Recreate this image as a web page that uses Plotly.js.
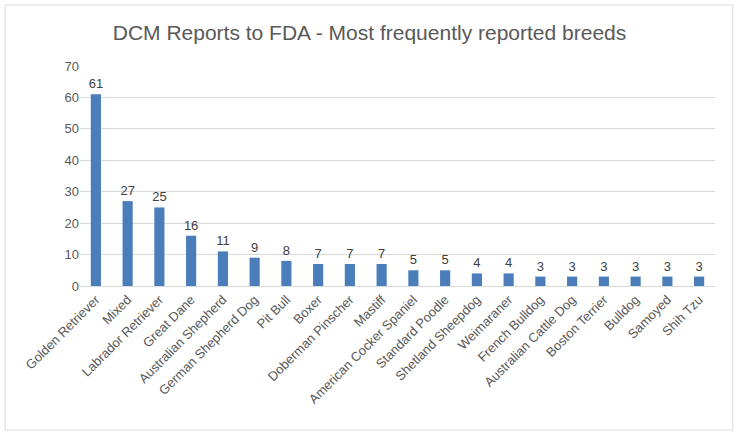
<!DOCTYPE html>
<html>
<head>
<meta charset="utf-8">
<script src="https://cdn.plot.ly/plotly-3.0.1.min.js"></script>
<style>
  body { margin: 0; background: #fff; }
  #chart { width: 739px; height: 434px; }
</style>
</head>
<body>
<div id="chart"></div>
<script>
var breeds = ["Golden Retriever", "Mixed", "Labrador Retriever", "Great Dane", "Australian Shepherd",
    "German Shepherd Dog", "Pit Bull", "Boxer", "Doberman Pinscher", "Mastiff",
    "American Cocker Spaniel", "Standard Poodle", "Shetland Sheepdog", "Weimaraner", "French Bulldog",
    "Australian Cattle Dog", "Boston Terrier", "Bulldog", "Samoyed", "Shih Tzu"]
var reports = [61, 27, 25, 16, 11, 9, 8, 7, 7, 7, 5, 5, 4, 4, 3, 3, 3, 3, 3, 3]
var yTicks = [0, 10, 20, 30, 40, 50, 60, 70]

var font = "Liberation Sans, Arial, sans-serif"

var bar_plot = {
    x: breeds,
    y: reports,
    type: 'bar',
    marker: { color: '#4a7ebb' },
    text: reports.map(String),
    textposition: 'outside',
    constraintext: 'none',
    textfont: { family: font, size: 13, color: '#404040' },
    cliponaxis: false,
    hoverinfo: 'x+y'
}

var layout = {
    width: 739,
    height: 434,
    margin: { l: 80, r: 24, t: 66, b: 148 },
    paper_bgcolor: '#fff',
    plot_bgcolor: '#fff',
    bargap: 0.68,
    showlegend: false,
    title: {
        text: "DCM Reports to FDA - Most frequently reported breeds",
        font: { family: font, size: 21, color: '#595959' },
        x: 0.5,
        xref: 'container',
        y: 0.925,
        yanchor: 'middle'
    },
    xaxis: {
        tickangle: -45,
        tickfont: { family: font, size: 13, color: '#595959' },
        showgrid: false,
        showline: true,
        linecolor: '#d9d9d9',
        ticks: '',
        automargin: false
    },
    yaxis: {
        range: [0, 70],
        tickvals: yTicks,
        tickfont: { family: font, size: 13, color: '#595959' },
        gridcolor: '#d9d9d9',
        zeroline: false,
        showline: false,
        ticks: '',
        ticklen: 0,
        automargin: false
    },
    shapes: [{
        type: 'rect',
        xref: 'paper', yref: 'paper',
        x0: -0.118, x1: 1.028, y0: -0.655, y1: 1.277,
        line: { color: '#d9d9d9', width: 1 },
        fillcolor: 'rgba(0,0,0,0)'
    }]
}

Plotly.newPlot('chart', [bar_plot], layout, { displayModeBar: false, staticPlot: true })
</script>
</body>
</html>
